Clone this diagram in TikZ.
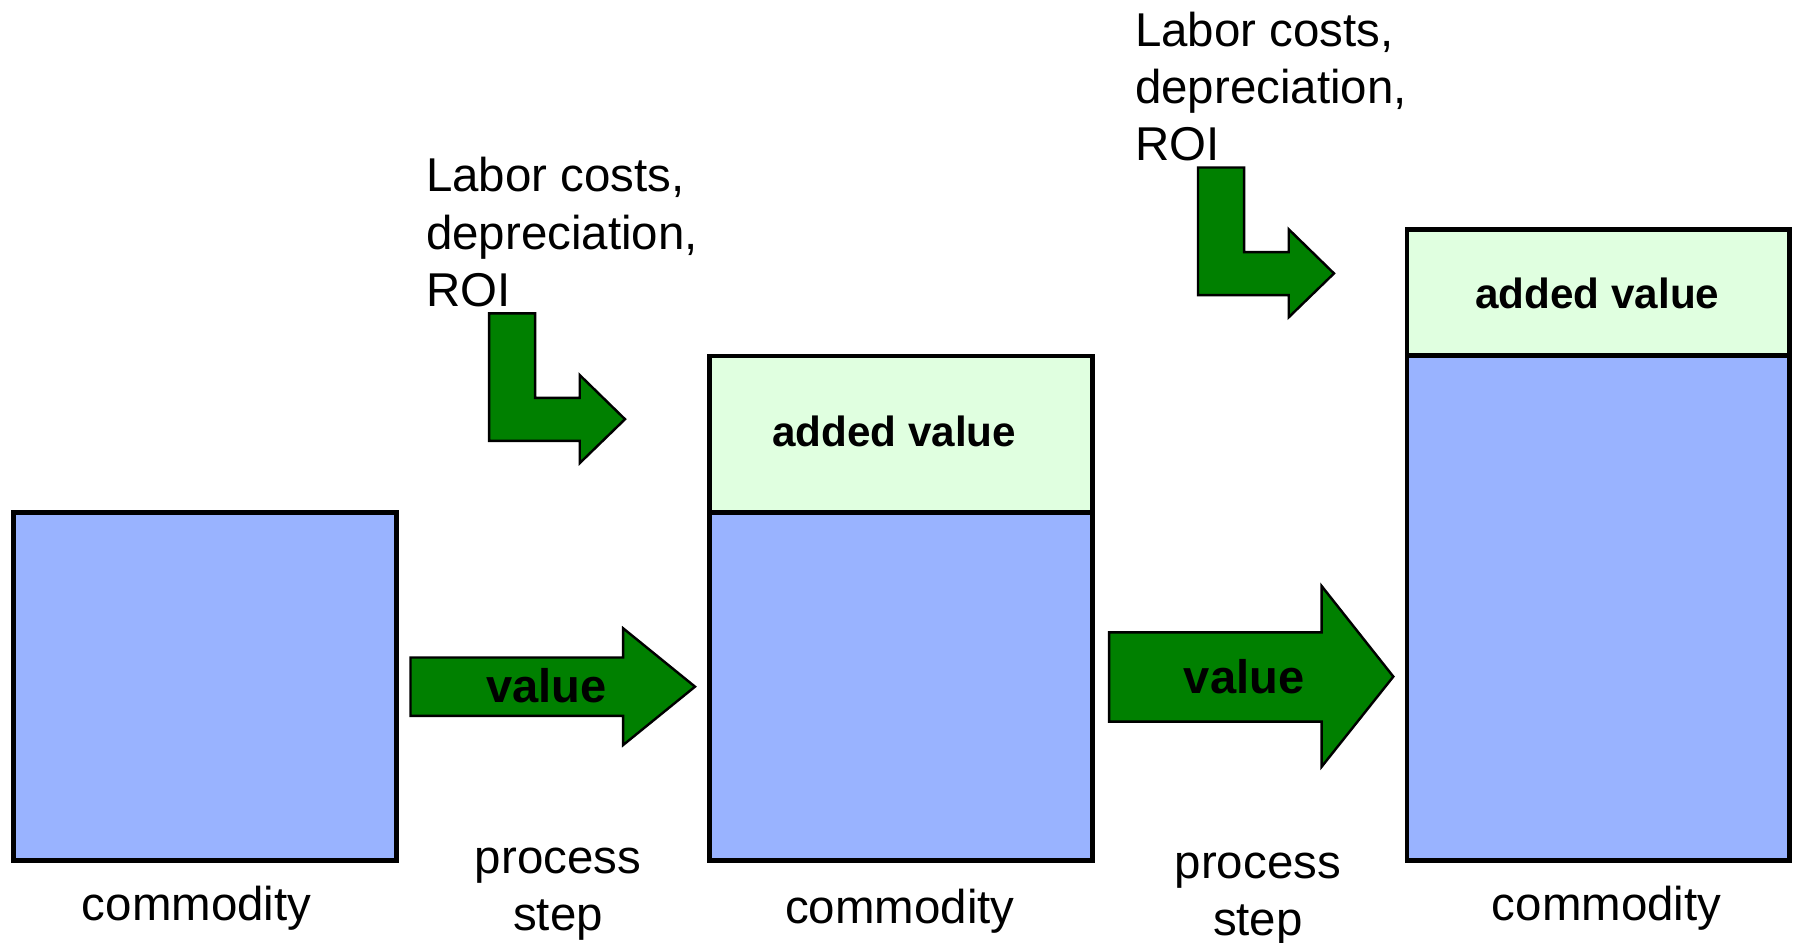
\documentclass[tikz,border=0pt]{standalone}
\usepackage{fontspec}
\setmainfont{Liberation Sans}
\usetikzlibrary{positioning}
\definecolor{goodsblue}{RGB}{153,179,255}
\definecolor{addedgreen}{RGB}{224,255,224}
\definecolor{flowgreen}{RGB}{0,128,0}

\begin{document}
\begin{tikzpicture}[x=0.01cm, y=-0.01cm,
	box/.style = {draw=black, line width=1.2pt, inner sep=0pt, outer sep=0pt, anchor=north west, minimum width=3.35cm},
	goods/.style = {box, fill=goodsblue},
	added/.style = {box, fill=addedgreen},
	addedtxt/.style = {inner sep=0pt, font=\fontsize{10.5}{12.6}\selectfont\bfseries},
	txt/.style = {inner sep=0pt, font=\fontsize{11.8}{14.2}\selectfont},
	steptxt/.style = {txt, align=center},
	costtxt/.style = {txt, align=left, anchor=west},
	valuetxt/.style = {inner sep=0pt, font=\fontsize{11.7}{14}\selectfont\bfseries},
	flow/.style = {draw=black, line width=0.6pt, fill=flowgreen}]
	\useasboundingbox (0,0) rectangle (1568,824);
	% commodity boxes
	\node [goods, minimum height=3.04cm] (c1) at (11.5,448.3) {};
	\node [added, minimum height=1.37cm] (a2) at (620.5,311.3) {};
	\node [goods, minimum height=3.037cm] (c2) at (620.5,448.3) {};
	\node [added, minimum height=1.10cm, minimum width=3.346cm] (a3) at (1230.4,201) {};
	\node [goods, minimum height=4.41cm, minimum width=3.346cm] (c3) at (1230.4,311) {};
	\node [addedtxt] (av2) at (782,377) {added value};
	\node [addedtxt] (av3) at (1397,257) {added value};
	\node [txt] (l1) at (172,794) {commodity};
	\node [txt] (l2) at (787,797) {commodity};
	\node [txt] (l3) at (1405,794) {commodity};
	% process steps
	\draw [flow] (359,575) -- (545,575) -- (545,549.5) -- (607.8,600.5) -- (545,651.5) -- (545,626) -- (359,626) -- cycle;
	\node [valuetxt] (v1) at (478,600) {value};
	\node [steptxt] (p1) at (488,782) {process\\step};
	\draw [flow] (970,553) -- (1155.8,553) -- (1155.8,512.5) -- (1218.5,591.7) -- (1155.8,670.5) -- (1155.8,631) -- (970,631) -- cycle;
	\node [valuetxt] (v2) at (1088,592) {value};
	\node [steptxt] (p2) at (1100,786) {process\\step};
	% costs going in
	\node [costtxt] (k1) at (372,203) {Labor costs,\\depreciation,\\ROI};
	\draw [flow] (427.7,274) -- (468,274) -- (468,348) -- (507,348) -- (507,328) -- (546.6,366.6) -- (507,405) -- (507,385.6) -- (427.7,385.6) -- cycle;
	\node [costtxt] (k2) at (992,75.5) {Labor costs,\\depreciation,\\ROI};
	\draw [flow, shift={(620,-127.5)}] (427.7,274) -- (468,274) -- (468,348) -- (507,348) -- (507,328) -- (546.6,366.6) -- (507,405) -- (507,385.6) -- (427.7,385.6) -- cycle;
\end{tikzpicture}
\end{document}
